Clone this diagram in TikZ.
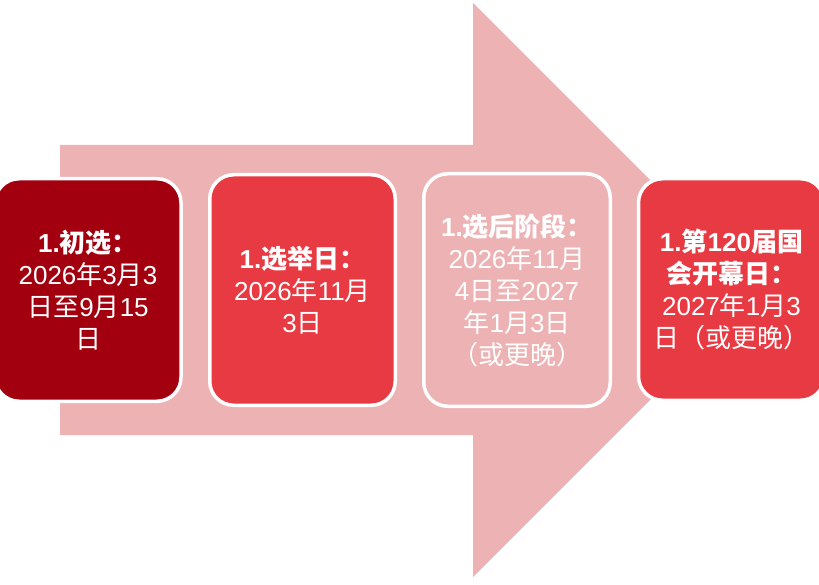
\documentclass[tikz,border=0pt]{standalone}
\usepackage{fontspec}
\setmainfont{Liberation Sans}
\newfontfamily\cjk{Noto Sans CJK SC}
\newcommand\C[1]{{\cjk #1}}
\definecolor{arrowpink}{RGB}{237,178,180}
\definecolor{darkred}{RGB}{163,0,15}
\definecolor{boxred}{RGB}{232,58,66}
\tikzset{
  stagebox/.style={draw=white, line width=3.5pt, rounded corners=24pt, text=white,
    align=center, inner sep=0pt, font=\fontsize{26}{32}\selectfont},
}
\begin{document}
\begin{tikzpicture}[x=1pt,y=-1pt]
\useasboundingbox (0,0) rectangle (819,585);
\fill[arrowpink] (60,145) -- (473,145) -- (473,3) -- (760,290) -- (473,577) -- (473,435) -- (60,435) -- cycle;
\node[stagebox, fill=darkred, minimum width=186pt, minimum height=222.5pt] (b1) at (88,290)
  {{\bfseries 1.\C{初选：}}\\2026\C{年}3\C{月}3\\\C{日至}9\C{月}15\\\C{日}};
\node[stagebox, fill=boxred, minimum width=185.5pt, minimum height=230.5pt] (b2) at (302.5,290)
  {{\bfseries 1.\C{选举日：}}\\2026\C{年}11\C{月}\\3\C{日}};
\node[stagebox, fill=arrowpink, minimum width=186.5pt, minimum height=232.5pt] (b3) at (517,290)
  {{\bfseries 1.\C{选后阶段：}}\\2026\C{年}11\C{月}\\4\C{日至}2027\\\C{年}1\C{月}3\C{日}\\\C{（或更晚）}};
\node[stagebox, fill=boxred, minimum width=186pt, minimum height=221.5pt] (b4) at (731.5,289.5)
  {{\bfseries 1.\C{第}120\C{届国}}\\{\bfseries\C{会开幕日：}}\\2027\C{年}1\C{月}3\\\C{日（或更晚）}};
\end{tikzpicture}
\end{document}
